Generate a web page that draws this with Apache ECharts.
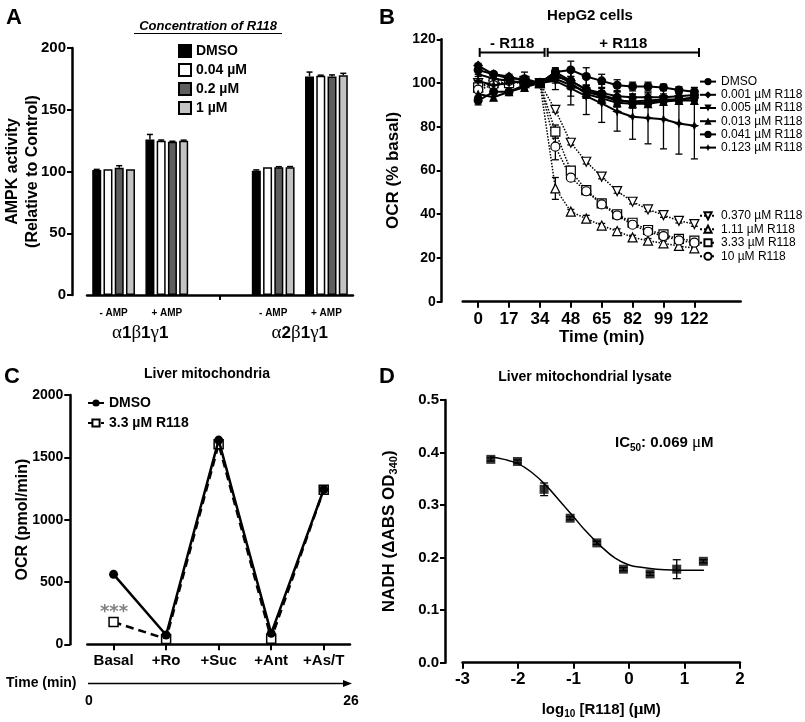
<!DOCTYPE html>
<html><head><meta charset="utf-8">
<script src="https://cdn.jsdelivr.net/npm/echarts@6/dist/echarts.min.js"></script>
<style>html,body{margin:0;padding:0;background:#fff}#c{width:805px;height:722px}</style>
</head><body><div id="c"></div><script>
const FONT = '"Liberation Sans", Arial, sans-serif';
const SERIF = '"Liberation Serif", "DejaVu Serif", serif';

// ---------- Panel A ----------
const aCategories = ['- AMP', '+ AMP', '', '- AMP', '+ AMP'];
const aGroupLabels = ['α1β1γ1', 'α2β1γ1'];
const aGroupPos = [0.5, 3.5];
const aNames = ['DMSO', '0.04 µM', '0.2 µM', '1 µM'];
const aDMSO = [101.2, 126, null, 100.7, 177];
const a004 = [101.8, 125, null, 103.4, 177.5];
const a02 = [103, 124, null, 103.4, 177];
const a1 = [101.8, 125, null, 103.4, 178];
const aErrDMSO = [0.5, 4, 0, 0.6, 3.5];
const aErr004 = [0.3, 0.5, 0, 0.3, 0.5];
const aErr02 = [1.7, 0.5, 0, 0.5, 1.2];
const aErr1 = [0.3, 0.4, 0, 0.6, 1.5];

// ---------- Panel B ----------
const bX = [0, 1, 2, 3, 4, 5, 6, 7, 8, 9, 10, 11, 12, 13, 14];
const bTickPos = [0, 2, 4, 6, 8, 10, 12, 14];
const bTickLabels = ['0', '17', '34', '48', '65', '82', '99', '122'];
const bNamesSolid = ['DMSO', '0.001 µM R118', '0.005 µM R118', '0.013 µM R118', '0.041 µM R118', '0.123 µM R118'];
const bNamesOpen = ['0.370 µM R118', '1.11 µM R118', '3.33 µM R118', '10 µM R118'];
const bDMSO = [106, 104, 102, 102, 100, 105, 106, 103, 101, 99, 98.4, 98.4, 98, 96.8, 96];
const b0001 = [108, 104, 103, 101, 100, 103, 101, 97, 95.5, 94, 93.5, 93.5, 93.5, 94, 94.5];
const b0005 = [104, 102, 101, 100, 100, 102, 99, 96, 94, 92, 91.5, 92, 92.5, 92.5, 93];
const b0013 = [95, 93.5, 96, 98, 100, 104, 100, 95, 93, 91, 90.5, 90.5, 91.5, 92, 92];
const b0041 = [92, 96, 96, 99, 100, 105, 101, 97, 94.5, 92.5, 91, 91, 92, 92.5, 93.5];
const b0123 = [101, 99, 100, 101, 100, 101, 97.6, 94, 90.7, 87, 84.6, 84, 83.4, 81.5, 80.5];
const b0370 = [100, 99, 100, 100, 100, 87.7, 72.7, 64, 57.2, 50.6, 45.7, 42.2, 39.6, 37, 35.5];
const b111 = [98, 101, 101, 100, 100, 51.8, 41.2, 38, 34.8, 32.3, 29.4, 27.9, 26.7, 25.5, 24.4];
const b333 = [98, 100, 100, 101, 100, 77.8, 59.9, 51, 45, 40, 36.1, 32.8, 30.8, 28.7, 27.9];
const b10 = [97, 99, 101, 100, 100, 70.9, 56.7, 50.5, 44.5, 39.5, 35.2, 32, 30, 28, 27];
const bErrDMSO = [2, 1, 1, 3, 0, 1.5, 4, 4, 3, 2.5, 2, 2, 1.5, 1.5, 2];
const bErr0001 = [1, 1, 1, 1, 0, 1, 2, 2, 2, 2, 1.5, 1.5, 1.5, 1.5, 1.5];
const bErr0005 = [1, 1, 1, 1, 0, 5, 2, 2, 2, 2, 1.5, 1.5, 1.5, 1.5, 1.5];
const bErr0013 = [1.5, 1.5, 1, 1, 0, 1, 6, 2, 2, 2, 2, 1.5, 1.5, 1.5, 1.5];
const bErr0041 = [2, 1, 1, 1, 0, 1, 2, 2, 2, 2, 1.5, 1.5, 1.5, 1.5, 1.5];
const bErr0123 = [1, 1, 1, 1, 0, 1, 7.6, 8.4, 8.7, 9, 10.3, 11.8, 13.5, 14, 15.2];
const bErr0370 = [1, 1, 1, 1, 0, 1, 1, 1, 1, 1, 1, 1, 1, 1, 1];
const bErr111 = [1, 1, 1, 1, 0, 5, 1, 1.5, 1, 1, 1, 1, 1, 1, 1];
const bErr333 = [1, 1, 1, 1, 0, 3, 1, 1, 1, 1, 1, 1, 1, 1, 1];
const bErr10 = [1, 1, 1, 1, 0, 6, 1, 1, 1, 1, 1, 1, 1, 1, 1];
const bBrackets = [[0.1, 4.3, 114], [4.5, 14.3, 114]];
const bBracketLabels = ['- R118', '+ R118'];

// ---------- Panel C ----------
const cCategories = ['Basal', '+Ro', '+Suc', '+Ant', '+As/T'];
const cNames = ['DMSO', '3.3 µM R118'];
const cDMSO = [561, 75, 1638, 88, 1242];
const cR118 = [179, 43, 1605, 45, 1240];

// ---------- Panel D ----------
const dX = [-2.49, -2.01, -1.53, -1.06, -0.58, -0.10, 0.38, 0.86, 1.34];
const dY = [0.387, 0.383, 0.330, 0.275, 0.228, 0.178, 0.169, 0.178, 0.193];
const dErr = [0.003, 0.003, 0.012, 0.003, 0.003, 0.003, 0.003, 0.018, 0.003];
const dCurveX = [-2.5, -2.25, -2, -1.75, -1.5, -1.2, -1, -0.8, -0.5, -0.25, 0, 0.25, 0.5, 1, 1.35];
const dCurveY = [0.392, 0.387, 0.379, 0.362, 0.338, 0.302, 0.278, 0.253, 0.221, 0.199, 0.186, 0.181, 0.178, 0.176, 0.176];

// ---------- helpers ----------
const BAR_W = 9, BAR_GAP = 0.25;
const lbl = (fs, extra) => Object.assign({color: '#000', fontSize: fs, fontWeight: 'bold', fontFamily: FONT}, extra || {});
const axLine = {show: true, onZero: false, lineStyle: {color: '#000', width: 2.5}};
const tick = (len) => ({show: true, inside: false, length: len, lineStyle: {color: '#000', width: 2}});
const zip = (xs, ys) => xs.map((x, i) => [x, ys[i]]);
const subRich = {
  b: {fontSize: 15, fontWeight: 'bold', fontFamily: FONT, lineHeight: 20, color: '#000'},
  s: {fontSize: 10, fontWeight: 'bold', fontFamily: FONT, lineHeight: 10, verticalAlign: 'bottom', color: '#000'},
  g: {fontSize: 17, fontFamily: SERIF, lineHeight: 20, color: '#000'}
};

function errUp(params, api) {
  const i = api.value(0), v = api.value(1), e = api.value(2), k = api.value(3);
  if (!(e > 0.3)) return;
  const off = (k - 1.5) * (BAR_W + BAR_W * BAR_GAP);
  const p0 = api.coord([i, v]), p1 = api.coord([i, v + e]);
  const x = p0[0] + off;
  return {type: 'group', children: [
    {type: 'line', shape: {x1: x, y1: p0[1], x2: x, y2: p1[1]}, style: {stroke: '#000', lineWidth: 1.5}},
    {type: 'line', shape: {x1: x - 3, y1: p1[1], x2: x + 3, y2: p1[1]}, style: {stroke: '#000', lineWidth: 1.5}}
  ]};
}
function errBoth(cap) {
  return function (params, api) {
    const x = api.value(0), v = api.value(1), e = api.value(2);
    if (!(e > 0)) return;
    const p0 = api.coord([x, v - e]), p1 = api.coord([x, v + e]);
    return {type: 'group', children: [
      {type: 'line', shape: {x1: p0[0], y1: p0[1], x2: p1[0], y2: p1[1]}, style: {stroke: '#000', lineWidth: 1.3}},
      {type: 'line', shape: {x1: p0[0] - cap, y1: p0[1], x2: p0[0] + cap, y2: p0[1]}, style: {stroke: '#000', lineWidth: 1.3}},
      {type: 'line', shape: {x1: p1[0] - cap, y1: p1[1], x2: p1[0] + cap, y2: p1[1]}, style: {stroke: '#000', lineWidth: 1.3}}
    ]};
  };
}

const series = [];

// A bars
const aVals = [aDMSO, a004, a02, a1];
const aErrs = [aErrDMSO, aErr004, aErr02, aErr1];
const aColors = ['#000000', '#ffffff', '#5e5e5e', '#c3c3c3'];
aNames.forEach((n, k) => {
  series.push({type: 'bar', name: 'A:' + n, xAxisIndex: 0, yAxisIndex: 0, data: aVals[k],
    barWidth: BAR_W, barGap: (BAR_GAP * 100) + '%',
    itemStyle: {color: aColors[k], borderColor: '#000', borderWidth: 1.5}});
});
const aErrData = [];
aVals.forEach((vals, k) => vals.forEach((v, i) => { if (v != null) aErrData.push([i, v, aErrs[k][i], k]); }));
series.push({type: 'custom', xAxisIndex: 0, yAxisIndex: 0, renderItem: errUp, data: aErrData, z: 5});

// B lines
const bSolidVals = [bDMSO, b0001, b0005, b0013, b0041, b0123];
const bSolidErr = [bErrDMSO, bErr0001, bErr0005, bErr0013, bErr0041, bErr0123];
const star = 'path://M0,-10L3,-3L10,0L3,3L0,10L-3,3L-10,0L-3,-3Z';
const bSolidSym = ['circle', 'diamond', 'triangle', 'triangle', 'circle', star];
const bSolidRot = [0, 0, 180, 0, 0, 0];
const bSolidSize = [9, 10, 9, 9, 9, 10];
const bOpenVals = [b0370, b111, b333, b10];
const bOpenErr = [bErr0370, bErr111, bErr333, bErr10];
const bOpenSym = ['triangle', 'triangle', 'rect', 'circle'];
const bOpenRot = [180, 0, 0, 0];
const bOpenSize = [9, 9, 9, 9];

const bErrData = [];
bNamesOpen.forEach((n, k) => {
  series.push({type: 'line', name: 'B:' + n, xAxisIndex: 2, yAxisIndex: 1, data: zip(bX, bOpenVals[k]),
    symbol: bOpenSym[k], symbolRotate: bOpenRot[k], symbolSize: bOpenSize[k], showSymbol: true,
    lineStyle: {color: '#000', width: 1.5, type: 'dotted'},
    itemStyle: {color: '#fff', borderColor: '#000', borderWidth: 1.2}, z: 3});
  bX.forEach((x, i) => bErrData.push([x, bOpenVals[k][i], bOpenErr[k][i]]));
});
bNamesSolid.forEach((n, k) => {
  series.push({type: 'line', name: 'B:' + n, xAxisIndex: 2, yAxisIndex: 1, data: zip(bX, bSolidVals[k]),
    symbol: bSolidSym[k], symbolRotate: bSolidRot[k], symbolSize: bSolidSize[k], showSymbol: true,
    lineStyle: {color: '#000', width: 2},
    itemStyle: {color: '#000'}, z: 4});
  bX.forEach((x, i) => bErrData.push([x, bSolidVals[k][i], bSolidErr[k][i]]));
});
series.push({type: 'custom', xAxisIndex: 2, yAxisIndex: 1, renderItem: errBoth(3.5), data: bErrData, z: 2});
series.push({type: 'custom', xAxisIndex: 2, yAxisIndex: 1, data: bBrackets, z: 5,
  renderItem: function (params, api) {
    const p0 = api.coord([api.value(0), api.value(2)]), p1 = api.coord([api.value(1), api.value(2)]);
    const st = {stroke: '#000', lineWidth: 2};
    return {type: 'group', children: [
      {type: 'line', shape: {x1: p0[0], y1: p0[1], x2: p1[0], y2: p1[1]}, style: st},
      {type: 'line', shape: {x1: p0[0], y1: p0[1] - 4.5, x2: p0[0], y2: p0[1] + 4.5}, style: st},
      {type: 'line', shape: {x1: p1[0], y1: p1[1] - 4.5, x2: p1[0], y2: p1[1] + 4.5}, style: st},
      {type: 'text', style: {text: bBracketLabels[params.dataIndex], x: (p0[0] + p1[0]) / 2, y: p0[1] - 1,
        align: 'center', verticalAlign: 'bottom', fontSize: 15, fontWeight: 'bold', fontFamily: FONT, fill: '#000'}}
    ]};
  }});

// C lines
series.push({type: 'line', name: 'C:' + cNames[1], xAxisIndex: 3, yAxisIndex: 2, data: cR118,
  symbol: 'rect', symbolSize: 9, showSymbol: true,
  lineStyle: {color: '#000', width: 2.5, type: [8, 5]},
  itemStyle: {color: '#fff', borderColor: '#000', borderWidth: 1.5}, z: 2});
series.push({type: 'line', name: 'C:' + cNames[0], xAxisIndex: 3, yAxisIndex: 2, data: cDMSO,
  symbol: 'circle', symbolSize: 9, showSymbol: true,
  lineStyle: {color: '#000', width: 2.5},
  itemStyle: {color: '#000'}, z: 3});

// D
series.push({type: 'line', xAxisIndex: 4, yAxisIndex: 3, data: zip(dCurveX, dCurveY), smooth: 0.4,
  symbol: 'none', lineStyle: {color: '#000', width: 1.5}, z: 2});
series.push({type: 'custom', xAxisIndex: 4, yAxisIndex: 3, renderItem: errBoth(4),
  data: dX.map((x, i) => [x, dY[i], dErr[i]]), z: 3});
series.push({type: 'scatter', xAxisIndex: 4, yAxisIndex: 3, data: zip(dX, dY), symbol: 'rect', symbolSize: 9,
  itemStyle: {color: '#000'}, z: 4});

const strip = (n) => n.replace(/^[A-D]:/, '');
const greekRich = (s) => s.split('').map(ch => /[0-9]/.test(ch) ? '{n|' + ch + '}' : '{g|' + ch + '}').join('');

const option = {
  animation: false,
  backgroundColor: '#fff',
  grid: [
    {left: 87, top: 48, width: 266, height: 247, outerBoundsMode: 'none'},
    {left: 462.7, top: 39.3, width: 278, height: 262.4, outerBoundsMode: 'none'},
    {left: 87.3, top: 395, width: 262.7, height: 249.3, outerBoundsMode: 'none'},
    {left: 462.5, top: 400, width: 277.5, height: 262.7, outerBoundsMode: 'none'}
  ],
  xAxis: [
    {type: 'category', gridIndex: 0, data: aCategories, boundaryGap: true, axisLine: axLine,
      axisTick: {show: true, alignWithLabel: true, interval: (i) => i === 2, length: 5, lineStyle: {color: '#000', width: 2}},
      axisLabel: lbl(10, {margin: 13, interval: 0}), splitLine: {show: false}},
    {type: 'value', gridIndex: 0, min: -0.5, max: 4.5, position: 'bottom', axisLine: {show: false}, axisTick: {show: false},
      splitLine: {show: false},
      axisLabel: {show: true, customValues: aGroupPos, margin: 29,
        formatter: (v) => greekRich(aGroupLabels[aGroupPos.indexOf(v)] || ''),
        rich: {g: {fontFamily: SERIF, fontSize: 19, color: '#000'}, n: {fontFamily: FONT, fontSize: 17, fontWeight: 'bold', color: '#000'}}}},
    {type: 'value', gridIndex: 1, min: -1, max: 17, axisLine: axLine,
      axisTick: {show: true, customValues: bTickPos, length: 6, lineStyle: {color: '#000', width: 2}},
      axisLabel: lbl(17, {customValues: bTickPos, margin: 9, formatter: (v) => bTickLabels[bTickPos.indexOf(v)]}),
      splitLine: {show: false},
      name: 'Time (min)', nameLocation: 'middle', nameGap: 26, nameTextStyle: lbl(17)},
    {type: 'category', gridIndex: 2, data: cCategories, boundaryGap: true, axisLine: axLine,
      axisTick: {show: true, alignWithLabel: true, length: 6, lineStyle: {color: '#000', width: 2}},
      axisLabel: lbl(15, {margin: 9, interval: 0}), splitLine: {show: false}},
    {type: 'value', gridIndex: 3, min: -3, max: 2, interval: 1, axisLine: axLine, axisTick: tick(6),
      axisLabel: lbl(17, {margin: 8}), splitLine: {show: false},
      name: 'log{s|10} [R118] ({g|μ}M)', nameLocation: 'middle', nameGap: 37,
      nameTextStyle: lbl(15, {lineHeight: 20, rich: subRich})}
  ],
  yAxis: [
    {type: 'value', gridIndex: 0, min: 0, max: 200, interval: 50, offset: 15, axisLine: axLine, axisTick: tick(5),
      axisLabel: lbl(15, {margin: 6}), splitLine: {show: false},
      name: 'AMPK activity\n(Relative to Control)', nameLocation: 'middle', nameRotate: 90, nameGap: 29, nameMoveOverlap: false,
      nameTextStyle: lbl(16, {lineHeight: 20})},
    {type: 'value', gridIndex: 1, min: 0, max: 120, interval: 20, offset: 21, axisLine: axLine, axisTick: tick(5),
      axisLabel: lbl(14, {margin: 6}), splitLine: {show: false},
      name: 'OCR (% basal)', nameLocation: 'middle', nameRotate: 90, nameGap: 40, nameMoveOverlap: false, nameTextStyle: lbl(17)},
    {type: 'value', gridIndex: 2, min: 0, max: 2000, interval: 500, offset: 17, axisLine: axLine, axisTick: tick(6),
      axisLabel: lbl(14, {margin: 7, formatter: (v) => String(v)}), splitLine: {show: false},
      name: 'OCR (pmol/min)', nameLocation: 'middle', nameRotate: 90, nameGap: 40, nameMoveOverlap: false, nameTextStyle: lbl(16)},
    {type: 'value', gridIndex: 3, min: 0, max: 0.5, interval: 0.1, offset: 17.5, axisLine: axLine, axisTick: tick(5),
      axisLabel: lbl(15, {margin: 6, formatter: (v) => v.toFixed(1)}), splitLine: {show: false},
      name: 'NADH (ΔABS OD{s|340})', nameLocation: 'middle', nameRotate: 90, nameGap: 46, nameMoveOverlap: false,
      nameTextStyle: lbl(17, {lineHeight: 20, rich: Object.assign({}, subRich, {s: Object.assign({}, subRich.s, {fontSize: 11})})})}
  ],
  legend: [
    {data: aNames.map(n => 'A:' + n), formatter: strip, orient: 'vertical', left: 178, top: 44, padding: 0,
      itemWidth: 12, itemHeight: 12, itemGap: 5, icon: 'rect', selectedMode: false,
      textStyle: lbl(14, {lineHeight: 14})},
    {data: bNamesSolid.map(n => 'B:' + n), formatter: strip, orient: 'vertical', left: 699, top: 75, padding: 0,
      itemWidth: 16, itemHeight: 9, itemGap: 0, selectedMode: false,
      textStyle: {color: '#000', fontSize: 12, fontFamily: FONT, lineHeight: 13.2}},
    {data: bNamesOpen.map(n => 'B:' + n), formatter: strip, orient: 'vertical', left: 699, top: 209, padding: 0,
      itemWidth: 16, itemHeight: 9, itemGap: 0, selectedMode: false,
      textStyle: {color: '#000', fontSize: 12, fontFamily: FONT, lineHeight: 13.5}},
    {data: cNames.map(n => 'C:' + n), formatter: strip, orient: 'vertical', left: 87, top: 396, padding: 0,
      itemWidth: 16, itemHeight: 9, itemGap: 6, selectedMode: false,
      textStyle: lbl(14, {lineHeight: 14})}
  ],
  graphic: [
    {type: 'text', x: 14, y: 18, style: {text: 'A', fontSize: 22, fontWeight: 'bold', fontFamily: FONT, fill: '#000', align: 'center', verticalAlign: 'middle'}},
    {type: 'text', x: 387, y: 18, style: {text: 'B', fontSize: 22, fontWeight: 'bold', fontFamily: FONT, fill: '#000', align: 'center', verticalAlign: 'middle'}},
    {type: 'text', x: 12, y: 377, style: {text: 'C', fontSize: 22, fontWeight: 'bold', fontFamily: FONT, fill: '#000', align: 'center', verticalAlign: 'middle'}},
    {type: 'text', x: 387, y: 377, style: {text: 'D', fontSize: 22, fontWeight: 'bold', fontFamily: FONT, fill: '#000', align: 'center', verticalAlign: 'middle'}},
    {type: 'text', x: 208, y: 26, style: {text: 'Concentration of R118', fontSize: 13, fontWeight: 'bold', fontStyle: 'italic', fontFamily: FONT, fill: '#000', align: 'center', verticalAlign: 'middle'}},
    {type: 'line', shape: {x1: 134, y1: 33.5, x2: 282, y2: 33.5}, style: {stroke: '#000', lineWidth: 1}},
    {type: 'text', x: 590, y: 16, style: {text: 'HepG2 cells', fontSize: 15, fontWeight: 'bold', fontFamily: FONT, fill: '#000', align: 'center', verticalAlign: 'middle'}},
    {type: 'text', x: 207, y: 374, style: {text: 'Liver mitochondria', fontSize: 14, fontWeight: 'bold', fontFamily: FONT, fill: '#000', align: 'center', verticalAlign: 'middle'}},
    {type: 'text', x: 585, y: 377, style: {text: 'Liver mitochondrial lysate', fontSize: 14, fontWeight: 'bold', fontFamily: FONT, fill: '#000', align: 'center', verticalAlign: 'middle'}},
    {type: 'text', x: 6, y: 683.5, style: {text: 'Time (min)', fontSize: 14, fontWeight: 'bold', fontFamily: FONT, fill: '#000', align: 'left', verticalAlign: 'middle'}},
    {type: 'line', shape: {x1: 88, y1: 683.5, x2: 345, y2: 683.5}, style: {stroke: '#000', lineWidth: 1.5}},
    {type: 'polygon', shape: {points: [[352, 683.5], [343, 680], [343, 687]]}, style: {fill: '#000'}},
    {type: 'text', x: 89, y: 701, style: {text: '0', fontSize: 14, fontWeight: 'bold', fontFamily: FONT, fill: '#000', align: 'center', verticalAlign: 'middle'}},
    {type: 'text', x: 351, y: 701, style: {text: '26', fontSize: 14, fontWeight: 'bold', fontFamily: FONT, fill: '#000', align: 'center', verticalAlign: 'middle'}},
    {type: 'text', x: 114, y: 612, style: {text: '***', fontSize: 18, fontWeight: 'bold', fontFamily: '"DejaVu Sans", sans-serif', fill: '#808080', align: 'center', verticalAlign: 'middle'}},
    {type: 'text', x: 615, y: 443, style: {text: '{b|IC}{s|50}{b|: 0.069 }{g|μ}{b|M}', rich: subRich, align: 'left', verticalAlign: 'middle'}}
  ],
  series: series
};
const chart = echarts.init(document.getElementById('c'));
chart.setOption(option);
</script></body></html>
